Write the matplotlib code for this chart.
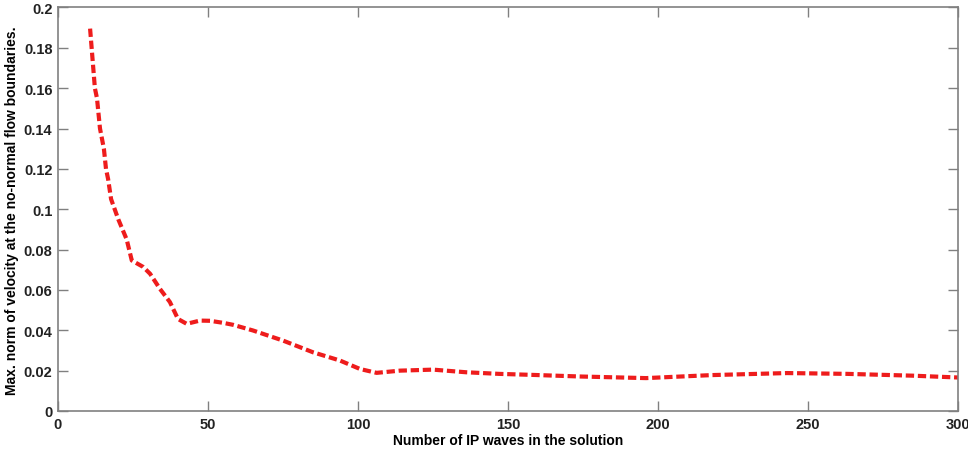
import matplotlib
matplotlib.use("Agg")
import matplotlib.pyplot as plt
from matplotlib.ticker import FuncFormatter

# values
waves = [10.7, 12.3, 13, 14, 15.3, 16, 16.7, 17.7, 20.1, 22.9, 24.6, 28.4, 30.7,
         34, 37.3, 40, 42.9, 47.3, 50.7, 55, 58.4, 65, 75, 85, 94, 100.7, 106.2,
         114, 125, 136, 147, 158, 174, 196, 218, 243, 263, 285, 300]
max_norm = [0.1895, 0.160, 0.155, 0.140, 0.130, 0.120, 0.115, 0.105, 0.095, 0.085,
            0.0746, 0.0714, 0.068, 0.0605, 0.054, 0.0456, 0.0432, 0.0448, 0.0447,
            0.0437, 0.0427, 0.0399, 0.0349, 0.0291, 0.025, 0.0208, 0.0189, 0.0200,
            0.0205, 0.0192, 0.0184, 0.0179, 0.0171, 0.0163, 0.0178, 0.0188, 0.0184,
            0.0175, 0.0166]

xticks = [0, 50, 100, 150, 200, 250, 300]
yticks = [0, 0.02, 0.04, 0.06, 0.08, 0.1, 0.12, 0.14, 0.16, 0.18, 0.2]

plt.rcParams['font.family'] = ['Liberation Sans', 'DejaVu Sans']
plt.rcParams['font.weight'] = 'bold'

fig = plt.figure(figsize=(9.68, 4.56), dpi=100)
ax = fig.add_axes([0.0599, 0.0965, 0.9298, 0.885])

ax.plot(waves, max_norm, color='#ee1c1c', linewidth=3, linestyle=(0, (2.0, 0.9)))

ax.set_xlim(0, 300)
ax.set_ylim(0, 0.2)
ax.set_xticks(xticks)
ax.set_yticks(yticks)
ax.yaxis.set_major_formatter(FuncFormatter(lambda v, p: '%g' % v))
ax.tick_params(direction='in', length=7, width=1, color='#808080',
               top=True, right=True, labelsize=10.5, labelcolor='#222222', pad=4)
for s in ax.spines.values():
    s.set_color('#808080')
    s.set_linewidth(1.2)

ax.set_xlabel('Number of IP waves in the solution', fontsize=10, fontweight='bold', labelpad=2)
ax.set_ylabel('Max. norm of velocity at the no-normal flow boundaries.', fontsize=10,
              fontweight='bold', labelpad=3)

fig.savefig('out.png', dpi=100)
